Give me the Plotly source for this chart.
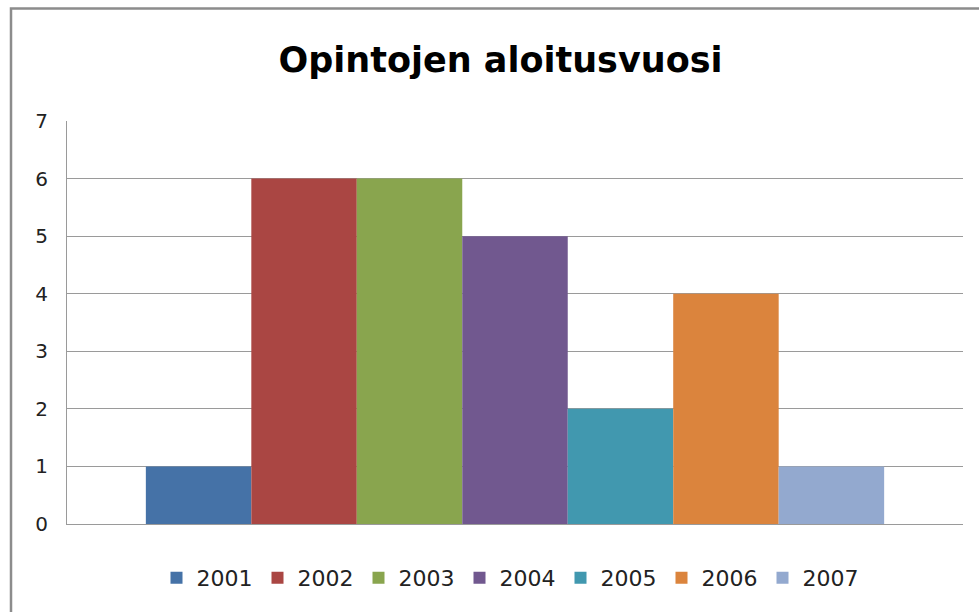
import plotly.graph_objects as go

years = ["2001", "2002", "2003", "2004", "2005", "2006", "2007"]
values = [1, 6, 6, 5, 2, 4, 1]
colors = ["#4572A7", "#AA4643", "#89A54E", "#71588F", "#4198AF", "#DB843D", "#93A9CF"]
category = [""]

fig = go.Figure()
for y, v, c in zip(years, values, colors):
    fig.add_trace(go.Bar(x=category, y=[v], name=y, marker=dict(color=c, line=dict(width=0))))

L, R, T, B = 67, 16, 121, 88
W, H = 979, 612
pw, ph = W - L - R, H - T - B

fig.update_layout(
    width=W, height=H,
    margin=dict(l=L, r=R, t=T, b=B),
    paper_bgcolor="white", plot_bgcolor="white",
    barmode="group", bargap=0.176, bargroupgap=0,
    title=dict(text="<b>Opintojen aloitusvuosi</b>", x=(500.5 - L) / pw, xref="paper", xanchor="center",
               y=1 - 60 / H, yanchor="middle",
               font=dict(family="DejaVu Sans", size=35, color="black")),
    font=dict(family="DejaVu Sans", color="#222222"),
    legend=dict(orientation="h", x=(510 - L) / pw, xanchor="center",
                y=-(578 - (H - B)) / ph, yanchor="middle",
                font=dict(size=22, color="#222222"), traceorder="normal"),
    shapes=[dict(type="rect", xref="paper", yref="paper",
                 x0=(11 - L) / pw, x1=1.2, y0=-0.5, y1=(H - B - 8.5) / ph,
                 line=dict(color="#8c8c8c", width=2.5), layer="below")],
)
fig.update_yaxes(range=[0, 7], dtick=1, showgrid=True, gridcolor="#9a9a9a", gridwidth=1,
                 showline=True, linecolor="#9a9a9a", linewidth=1, zeroline=False,
                 tickfont=dict(size=20), ticks="", ticklabelstandoff=14)
fig.update_xaxes(showticklabels=False, showline=True, linecolor="#9a9a9a", linewidth=1,
                 ticks="")

fig.write_html("out.html", config={"displayModeBar": False},
               post_script="document.body.style.margin='0';document.body.style.overflow='hidden';")
